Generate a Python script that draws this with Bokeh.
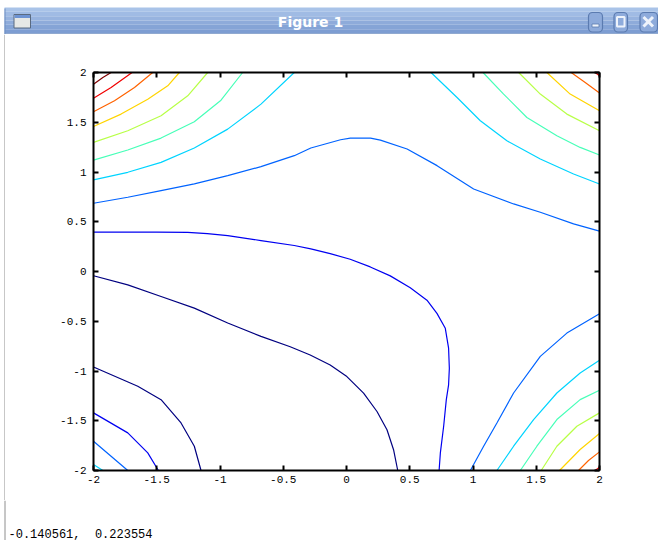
from bokeh.plotting import figure
from bokeh.models import Range1d, LinearAxis, FixedTicker, ColumnDataSource, CustomJSTickFormatter
from bokeh.layouts import column, row
from bokeh.embed import file_html
from bokeh.resources import INLINE
from bokeh.core.properties import value

# ---------------- data ----------------
tick_values = [-2, -1.5, -1, -0.5, 0, 0.5, 1, 1.5, 2]
tick_labels = ["-2", "-1.5", "-1", "-0.5", "0", "0.5", "1", "1.5", "2"]

# jet colours of the 10 contour levels (0 = lowest, 9 = highest)
level_colors = ["#000080", "#0000f1", "#0063ff", "#00d4ff", "#47ffb8",
                "#b8ff47", "#ffd400", "#ff6300", "#f10000", "#800000"]

contour_level = [9, 8, 8, 8, 7, 7, 7, 6, 6, 6, 5, 5, 5, 4, 4, 4, 3, 3, 3, 3, 2, 2, 2, 1, 1, 0, 0]

contour_x = [
    [-2, -1.926, -1.861],
    [-2, -1.861, -1.695],
    [1.966, 2.0],
    [1.966, 2.0],
    [-2, -1.834, -1.676, -1.532],
    [1.776, 1.887, 2.0],
    [1.834, 1.913, 2.0],
    [-2, -1.782, -1.571, -1.413, -1.321],
    [1.584, 1.768, 2.0],
    [1.684, 1.847, 2.0],
    [-2, -1.729, -1.466, -1.255, -1.097],
    [1.361, 1.532, 1.742, 2.0],
    [1.539, 1.663, 1.821, 2.0],
    [-2, -1.729, -1.466, -1.203, -0.992, -0.821],
    [1.079, 1.242, 1.426, 1.663, 1.847, 2.0],
    [1.374, 1.505, 1.663, 1.847, 2.0],
    [-2, -1.729, -1.466, -1.203, -0.939, -0.676, -0.413],
    [0.668, 0.874, 1.058, 1.268, 1.532, 1.795, 2.0],
    [1.189, 1.321, 1.479, 1.663, 1.847, 2.0],
    [-2, -1.926],
    [-2, -1.729, -1.466, -1.203, -0.939, -0.676, -0.413, -0.282, -0.047, 0.03, 0.19,
     0.268, 0.479, 0.716, 1.005, 1.321, 1.532, 1.795, 2.0],
    [0.979, 1.084, 1.189, 1.321, 1.532, 1.742, 2.0],
    [-2, -1.861, -1.729],
    [-2, -1.5, -1.255, -1.1, -0.939, -0.676, -0.413, -0.282, -0.129, 0.029, 0.188,
     0.346, 0.504, 0.636, 0.715, 0.781, 0.807, 0.813, 0.807, 0.789, 0.768, 0.742, 0.732],
    [-2, -1.729, -1.571, -1.487],
    [-2, -1.729, -1.466, -1.203, -0.939, -0.676, -0.445, -0.287, -0.129, 0.003, 0.135,
     0.241, 0.320, 0.372, 0.405],
    [-2, -1.65, -1.466, -1.308, -1.203, -1.150],
]

contour_y = [
    [1.883, 1.95, 2.0],
    [1.742, 1.849, 2.0],
    [2.0, 1.967],
    [-2.0, -1.967],
    [1.605, 1.716, 1.849, 2.0],
    [2.0, 1.900, 1.793],
    [-2.0, -1.900, -1.813],
    [1.458, 1.582, 1.732, 1.866, 2.0],
    [2.0, 1.783, 1.615],
    [-2.0, -1.789, -1.629],
    [1.298, 1.415, 1.565, 1.766, 2.0],
    [2.0, 1.783, 1.582, 1.415],
    [-2.0, -1.756, -1.555, -1.421],
    [1.120, 1.221, 1.341, 1.505, 1.722, 2.0],
    [2.0, 1.783, 1.548, 1.365, 1.247, 1.171],
    [-2.0, -1.756, -1.488, -1.288, -1.194],
    [0.920, 0.997, 1.097, 1.241, 1.431, 1.682, 2.0],
    [2.0, 1.749, 1.515, 1.314, 1.130, 0.980, 0.880],
    [-2.0, -1.756, -1.488, -1.221, -1.020, -0.893],
    [-1.940, -2.0],
    [0.686, 0.746, 0.813, 0.880, 0.963, 1.054, 1.164, 1.241, 1.324, 1.341, 1.341,
     1.321, 1.231, 1.064, 0.829, 0.679, 0.595, 0.478, 0.405],
    [-2.0, -1.756, -1.522, -1.221, -0.853, -0.619, -0.425],
    [-1.706, -1.856, -2.0],
    [0.395, 0.395, 0.393, 0.380, 0.361, 0.311, 0.261, 0.227, 0.180, 0.123, 0.046,
     -0.044, -0.164, -0.288, -0.421, -0.571, -0.771, -0.972, -1.139, -1.288, -1.555,
     -1.823, -2.0],
    [-1.421, -1.622, -1.823, -2.0],
    [-0.043, -0.134, -0.251, -0.368, -0.518, -0.652, -0.756, -0.839, -0.939, -1.056,
     -1.222, -1.407, -1.590, -1.791, -2.0],
    [-0.960, -1.154, -1.288, -1.522, -1.756, -2.0],
]

window_title = "Figure 1"
status_text = "-0.140561,\u00a0 0.223554"

BORDER = "#8e8e8e"

# ---------------- window title bar ----------------
bar = figure(width=658, height=34, x_range=Range1d(0, 658), y_range=Range1d(34, 0),
             output_backend="svg", toolbar_location=None, min_border=0,
             x_axis_type=None, y_axis_type=None)
bar.outline_line_color = None
bar.grid.visible = False
bar.background_fill_color = "white"
bar.border_fill_color = "white"
bands = ["#a9c3e8", "#a0bbe4", "#97b3df", "#8eabda", "#85a4d6", "#7d9dd2"]
n = len(bands)
bar.quad(left=[4] * n, right=[658] * n,
         top=[7 + i * 26 / n for i in range(n)],
         bottom=[7 + (i + 1) * 26 / n for i in range(n)],
         fill_color=bands, line_color=None)
bar.segment(x0=[4], y0=[33.5], x1=[658], y1=[33.5], line_color="#6384b8", line_width=1)
bar.segment(x0=[4.5], y0=[8], x1=[4.5], y1=[34], line_color="#6f8fc2", line_width=1)
# window icon
bar.quad(left=[13.5], right=[30], top=[14], bottom=[27.5], fill_color="#e6e8e6",
         line_color="#5a6a80", line_width=1)
bar.quad(left=[14], right=[29.5], top=[14.5], bottom=[17.5], fill_color="#6d93d3",
         line_color=None)
# window buttons
bar.quad(left=[588, 613.5, 639.5], right=[602, 627, 657], top=[12, 12, 12],
         bottom=[31.5, 31.5, 31.5], fill_color="#8eabdb", line_color="#5b7bb0",
         line_width=1.2, border_radius=4)
bar.quad(left=[591.5], right=[598.5], top=[23.5], bottom=[26.5], fill_color="#eef3fb",
         line_color="#5b7bb0", line_width=0.8)
bar.quad(left=[616.5], right=[624], top=[16.5], bottom=[26], fill_color=None,
         line_color="#eef3fb", line_width=2)
bar.segment(x0=[643, 643], y0=[16.5, 26], x1=[652.5, 652.5], y1=[26, 16.5],
            line_color="#eef3fb", line_width=3)
bar.text(x=[310], y=[21.5], text=[window_title], text_align="center",
         text_baseline="middle", text_color="white",
         text_font=value("DejaVu Sans"), text_font_style="bold", text_font_size="14px")

# ---------------- left window border ----------------
strip = figure(width=5, height=466, x_range=Range1d(0, 5), y_range=Range1d(0, 466),
               output_backend="svg", toolbar_location=None, min_border=0,
               x_axis_type=None, y_axis_type=None)
strip.outline_line_color = None
strip.grid.visible = False
strip.background_fill_color = "white"
strip.border_fill_color = "white"
strip.segment(x0=[4.5], y0=[0], x1=[4.5], y1=[466], line_color=BORDER, line_width=1)

# ---------------- contour plot ----------------
p = figure(width=653, height=466, x_range=Range1d(-2, 2), y_range=Range1d(-2, 2),
           output_backend="svg", toolbar_location=None,
           min_border_left=88, min_border_right=59, min_border_top=38, min_border_bottom=30)
p.grid.visible = False
p.background_fill_color = "white"
p.border_fill_color = "white"
p.outline_line_color = "black"
p.outline_line_width = 1

src = ColumnDataSource(dict(xs=contour_x, ys=contour_y,
                            color=[level_colors[i] for i in contour_level]))
p.multi_line("xs", "ys", line_color="color", line_width=1.2, source=src)

p.add_layout(LinearAxis(), "above")
p.add_layout(LinearAxis(), "right")

overrides = {v: t for v, t in zip(tick_values, tick_labels)}
for ax in p.axis:
    ax.ticker = FixedTicker(ticks=tick_values)
    ax.axis_line_width = 2
    ax.axis_line_color = "black"
    ax.major_tick_in = 5
    ax.major_tick_out = 0
    ax.major_tick_line_width = 2
    ax.major_tick_line_color = "black"
    ax.minor_tick_line_color = None
    ax.major_label_text_font = "Liberation Mono"
    ax.major_label_text_font_size = "11px"
    ax.major_label_text_color = "black"
    ax.major_label_overrides = overrides

for ax in (p.above[0], p.right[0]):
    ax.formatter = CustomJSTickFormatter(code="return ''")
    ax.major_label_overrides = {}

p.xaxis[0].major_label_standoff = 11
p.yaxis[0].major_label_standoff = 7

# ---------------- status line ----------------
foot = figure(width=658, height=40, x_range=Range1d(0, 658), y_range=Range1d(40, 0),
              output_backend="svg", toolbar_location=None, min_border=0,
              x_axis_type=None, y_axis_type=None)
foot.outline_line_color = None
foot.grid.visible = False
foot.border_fill_color = "white"
foot.segment(x0=[4.5], y0=[0], x1=[4.5], y1=[40], line_color=BORDER, line_width=1)
foot.text(x=[8], y=[34], text=[status_text], text_align="left",
          text_baseline="alphabetic", text_color="black",
          text_font=value("Liberation Mono"), text_font_size="12px")

layout = column(bar, row(column(strip), p), foot)
open("out.html", "w").write(file_html(layout, INLINE))
